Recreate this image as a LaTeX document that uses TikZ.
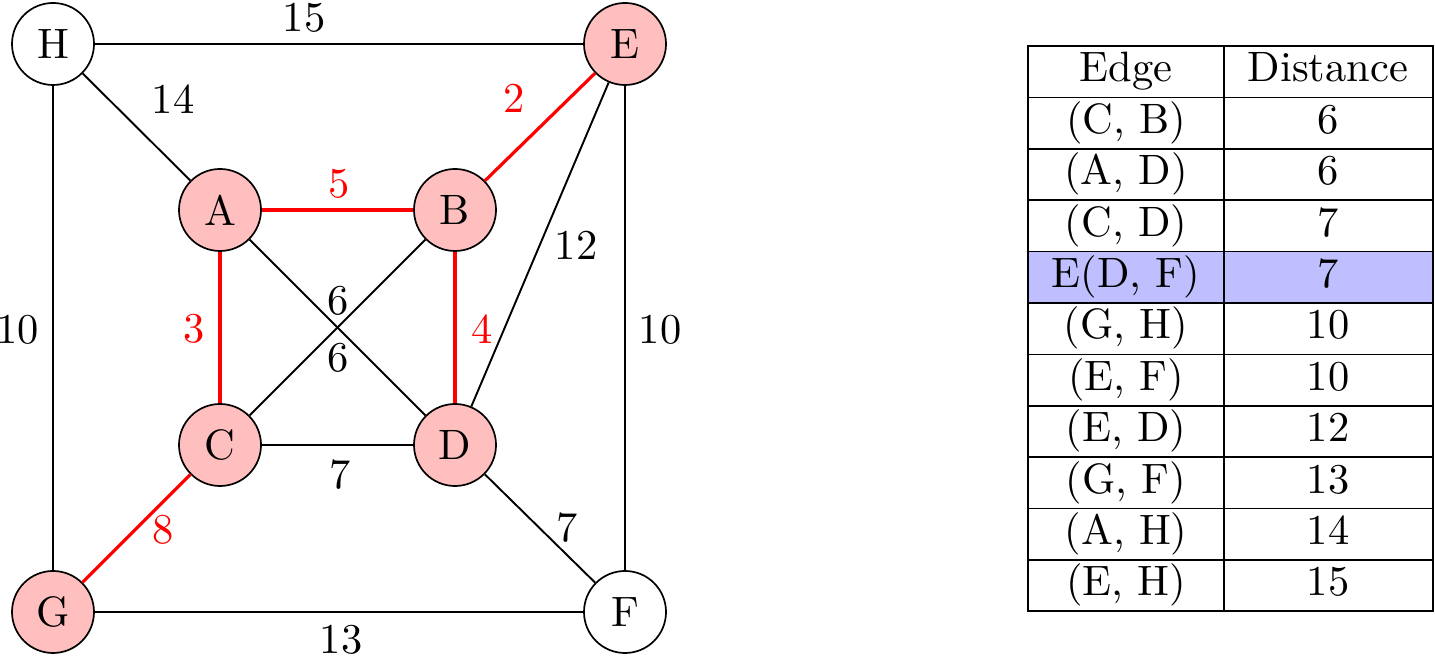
\documentclass[tikz,border=0pt]{standalone}
\begin{document}
\begin{tikzpicture}[x=0.2353pt,y=-0.2353pt,
  vtx/.style={circle,draw,line width=0.4pt,minimum size=19.3pt,inner sep=0pt},
  sel/.style={vtx,fill=red!25},
  edg/.style={line width=0.45pt},
  mst/.style={draw=red,line width=0.75pt},
  lbl/.style={inner sep=0pt},
  rlbl/.style={lbl,text=red},
  cell/.style={anchor=base,inner sep=0pt}]
\useasboundingbox (0,0) rectangle (1435,656);
% vertices
\node[vtx] (H) at (53,44) {H};
\node[sel] (E) at (625,44) {E};
\node[sel] (A) at (220,210) {A};
\node[sel] (B) at (455,210) {B};
\node[sel] (C) at (220,445) {C};
\node[sel] (D) at (455,445) {D};
\node[sel] (G) at (53,612) {G};
\node[vtx] (F) at (625,612) {F};
% edges
\draw[edg] (H) -- (E);
\draw[edg] (H) -- (A);
\draw[edg] (H) -- (G);
\draw[edg] (E) -- (F);
\draw[edg] (E) -- (D);
\draw[edg] (A) -- (D);
\draw[edg] (C) -- (B);
\draw[edg] (C) -- (D);
\draw[edg] (D) -- (F);
\draw[edg] (G) -- (F);
\draw[mst] (B) -- (E);
\draw[mst] (A) -- (B);
\draw[mst] (A) -- (C);
\draw[mst] (B) -- (D);
\draw[mst] (C) -- (G);
% edge labels
\node[lbl] (l15) at (304,18) {15};
\node[lbl] (l14) at (173,99) {14};
\node[rlbl] (l2) at (514,98) {2};
\node[rlbl] (l5) at (339,184) {5};
\node[lbl] (l12) at (576,245) {12};
\node[lbl] (l10a) at (18,330) {10};
\node[lbl] (l10b) at (660,330) {10};
\node[rlbl] (l3) at (194,329) {3};
\node[rlbl] (l4) at (482,329) {4};
\node[lbl] (l6a) at (338,301) {6};
\node[lbl] (l6b) at (338,358) {6};
\node[lbl] (l7a) at (340,475) {7};
\node[rlbl] (l8) at (163,530) {8};
\node[lbl] (l7b) at (567,528) {7};
\node[lbl] (l13) at (341,640) {13};
% table
\fill[blue!25] (1028,251.6) rectangle (1433,303);
\draw[line width=0.4pt] (1028,46) rectangle (1433,611);
\draw[line width=0.4pt] (1224,46) -- (1224,611);
\foreach \i in {1,...,10} \draw[line width=0.4pt] (1028,{46+51.4*\i}) -- (1433,{46+51.4*\i});
\node[cell] (t0a) at (1126,82) {Edge};
\node[cell] (t0b) at (1328,82) {Distance};
\node[cell] (t1a) at (1126,133.4) {(C, B)};
\node[cell] (t1b) at (1328,133.4) {6};
\node[cell] (t2a) at (1126,184.8) {(A, D)};
\node[cell] (t2b) at (1328,184.8) {6};
\node[cell] (t3a) at (1126,236.2) {(C, D)};
\node[cell] (t3b) at (1328,236.2) {7};
\node[cell] (t4a) at (1126,287.6) {E(D, F)};
\node[cell] (t4b) at (1328,287.6) {7};
\node[cell] (t5a) at (1126,339) {(G, H)};
\node[cell] (t5b) at (1328,339) {10};
\node[cell] (t6a) at (1126,390.4) {(E, F)};
\node[cell] (t6b) at (1328,390.4) {10};
\node[cell] (t7a) at (1126,441.8) {(E, D)};
\node[cell] (t7b) at (1328,441.8) {12};
\node[cell] (t8a) at (1126,493.2) {(G, F)};
\node[cell] (t8b) at (1328,493.2) {13};
\node[cell] (t9a) at (1126,544.6) {(A, H)};
\node[cell] (t9b) at (1328,544.6) {14};
\node[cell] (t10a) at (1126,596) {(E, H)};
\node[cell] (t10b) at (1328,596) {15};
\end{tikzpicture}
\end{document}
